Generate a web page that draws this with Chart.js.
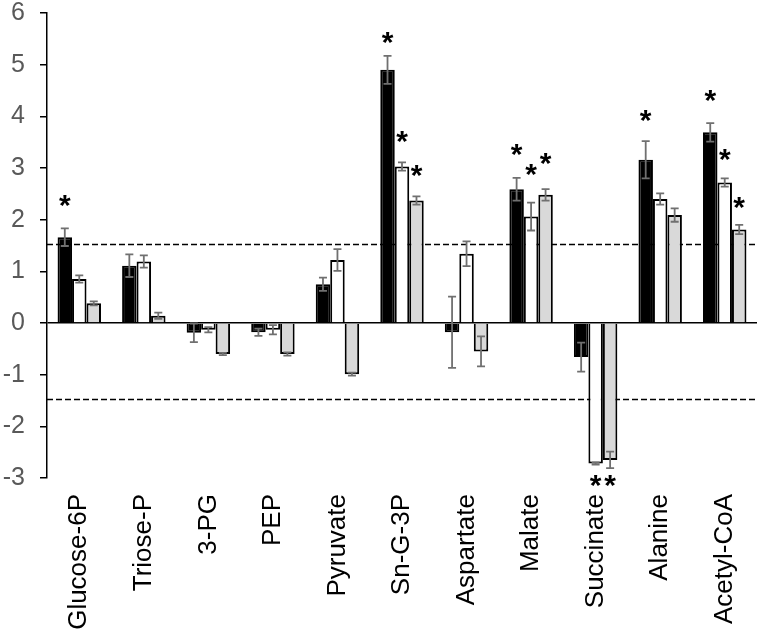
<!DOCTYPE html>
<html>
<head>
<meta charset="utf-8">
<script src="https://cdn.jsdelivr.net/npm/chart.js@4"></script>
<style>
  html, body { margin: 0; padding: 0; background: #fff; }
  #wrap { width: 765px; height: 634px; }
</style>
</head>
<body>
<div id="wrap"><canvas id="chart"></canvas></div>
<script>
const categories = ['Glucose-6P', 'Triose-P', '3-PG', 'PEP', 'Pyruvate', 'Sn-G-3P', 'Aspartate', 'Malate', 'Succinate', 'Alanine', 'Acetyl-CoA'];

const blackVals = [1.66, 1.11, -0.19, -0.18, 0.75, 4.90, -0.18, 2.59, -0.66, 3.16, 3.69];
const blackErr  = [0.17, 0.22, 0.18, 0.07, 0.13, 0.27, 0.69, 0.22, 0.28, 0.36, 0.18];
const whiteVals = [0.85, 1.19, -0.13, -0.13, 1.22, 3.03, 1.34, 2.06, -2.72, 2.40, 2.72];
const whiteErr  = [0.07, 0.12, 0.05, 0.09, 0.21, 0.08, 0.24, 0.27, 0.02, 0.11, 0.08];
const grayVals  = [0.38, 0.14, -0.60, -0.60, -0.99, 2.37, -0.55, 2.48, -2.65, 2.09, 1.81];
const grayErr   = [0.04, 0.06, 0.02, 0.03, 0.03, 0.08, 0.29, 0.11, 0.16, 0.13, 0.09];

// where the significance asterisks sit (y value of the star), null = none
const blackStars = [2.43, null, null, null, null, 5.58, null, 3.41, null, 4.08, 4.45];
const whiteStars = [null, null, null, null, null, 3.67, null, 3.03, -2.99, null, 3.32];
const grayStars  = [null, null, null, null, null, 3.01, null, 3.24, -2.99, null, 2.38];

const thresholds = [1.53, -1.48];
const yTicks = [-3, -2, -1, 0, 1, 2, 3, 4, 5, 6];

const FONT = "'Liberation Sans', Arial, sans-serif";

const extrasPlugin = {
  id: 'extras',
  beforeDatasetsDraw(chart) {
    const { ctx, chartArea, scales: { y } } = chart;
    ctx.save();
    ctx.strokeStyle = '#000';
    ctx.lineWidth = 1.5;
    ctx.setLineDash([6, 3]);
    thresholds.forEach(t => {
      const py = Math.round(y.getPixelForValue(t)) + 0.5;
      ctx.beginPath();
      ctx.moveTo(chartArea.left, py);
      ctx.lineTo(chartArea.right, py);
      ctx.stroke();
    });
    ctx.restore();
  },
  afterDatasetsDraw(chart) {
    const { ctx, scales: { y } } = chart;
    ctx.save();
    chart.data.datasets.forEach((ds, di) => {
      const meta = chart.getDatasetMeta(di);
      meta.data.forEach((bar, i) => {
        const v = ds.data[i], e = ds.err[i];
        const y1 = y.getPixelForValue(v + e), y2 = y.getPixelForValue(v - e);
        ctx.strokeStyle = '#707070';
        ctx.lineWidth = 1.8;
        ctx.beginPath();
        ctx.moveTo(bar.x, y1); ctx.lineTo(bar.x, y2);
        ctx.moveTo(bar.x - 4, y1); ctx.lineTo(bar.x + 4, y1);
        ctx.moveTo(bar.x - 4, y2); ctx.lineTo(bar.x + 4, y2);
        ctx.stroke();

        const s = ds.stars[i];
        if (s !== null) {
          ctx.fillStyle = '#000';
          ctx.font = 'bold 30px ' + FONT;
          ctx.textAlign = 'center';
          ctx.textBaseline = 'alphabetic';
          ctx.fillText('*', bar.x, y.getPixelForValue(s) + 30 * 0.58);
        }
      });
    });
    ctx.restore();
  }
};

new Chart(document.getElementById('chart'), {
  type: 'bar',
  data: {
    labels: categories,
    datasets: [
      { data: blackVals, err: blackErr, stars: blackStars, backgroundColor: '#000', borderColor: '#000', borderWidth: 2 },
      { data: whiteVals, err: whiteErr, stars: whiteStars, backgroundColor: '#fff', borderColor: '#000', borderWidth: 2 },
      { data: grayVals, err: grayErr, stars: grayStars, backgroundColor: '#d9d9d9', borderColor: '#000', borderWidth: 2 }
    ]
  },
  options: {
    responsive: true,
    maintainAspectRatio: false,
    animation: false,
    layout: { padding: { top: 13, right: 8, left: 0, bottom: 0 } },
    datasets: { bar: { categoryPercentage: 0.673, barPercentage: 1 } },
    plugins: { legend: { display: false }, tooltip: { enabled: false } },
    scales: {
      x: {
        grid: { display: false, drawTicks: false },
        border: { display: false },
        ticks: {
          color: '#000',
          font: { family: FONT, size: 26 },
          minRotation: 90,
          maxRotation: 90,
          padding: 16,
          autoSkip: false
        },
        afterFit(scale) {
          scale.height = 156;
          scale.paddingLeft = 0;
          scale.paddingRight = 0;
        }
      },
      y: {
        min: -3,
        max: 6,
        afterBuildTicks(scale) { scale.ticks = yTicks.map(v => ({ value: v })); },
        border: { display: true, color: '#000', width: 1.5 },
        grid: {
          drawOnChartArea: true,
          color: c => (c.tick && c.tick.value === 0 ? '#000' : 'rgba(0,0,0,0)'),
          lineWidth: 1.5,
          tickColor: '#000',
          tickLength: 7
        },
        ticks: {
          color: '#595959',
          font: { family: FONT, size: 25 },
          padding: 15
        },
        afterFit(scale) {
          scale.width = 47;
          scale.paddingTop = 0;
          scale.paddingBottom = 0;
        }
      }
    }
  },
  plugins: [extrasPlugin]
});
</script>
</body>
</html>
